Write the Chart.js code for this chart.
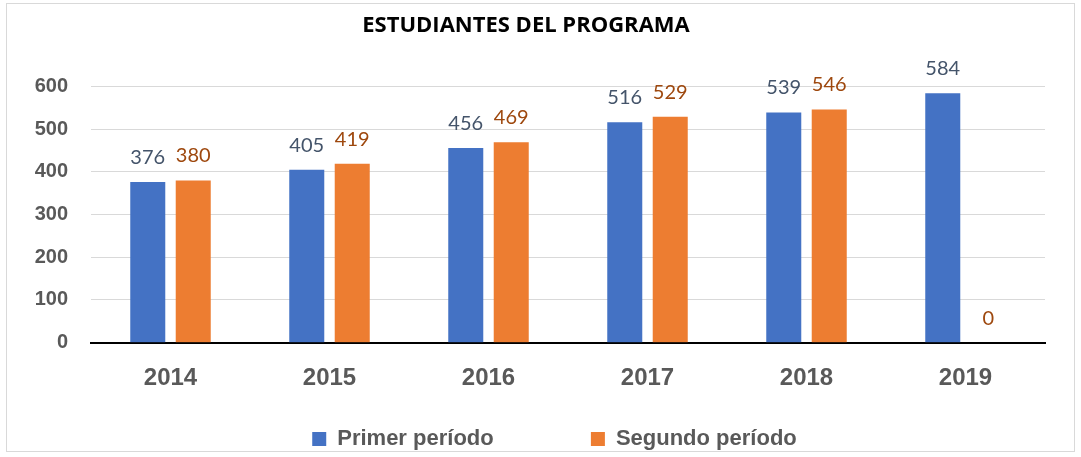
<!DOCTYPE html>
<html>
<head>
<meta charset="utf-8">
<script src="https://cdn.jsdelivr.net/npm/chart.js@4/dist/chart.umd.min.js"></script>
<style>
  html, body { margin: 0; padding: 0; background: #ffffff; }
  #wrap { position: absolute; left: 6px; top: 3px; width: 1069px; height: 449px; border: 1px solid #d9d9d9; box-sizing: border-box; background: #fff; }
  canvas { display: block; }
</style>
</head>
<body>
<div id="wrap"><canvas id="c"></canvas></div>
<script>
const categories = ["2014", "2015", "2016", "2017", "2018", "2019"];
const primerPeriodo = [376, 405, 456, 516, 539, 584];
const segundoPeriodo = [380, 419, 469, 529, 546, 0];
const seriesNames = ["Primer período", "Segundo período"];
const yTicks = [0, 100, 200, 300, 400, 500, 600];
const chartTitle = "ESTUDIANTES DEL PROGRAMA";

const AXISFONT = "'Liberation Sans', Arial, sans-serif";
const labelColors = ["#44546A", "#9E480E"];

const valueLabels = {
  id: 'valueLabels',
  afterDatasetsDraw(chart) {
    const ctx = chart.ctx;
    ctx.save();
    ctx.font = "20px Lato, 'Open Sans', sans-serif";
    ctx.textAlign = 'center';
    ctx.textBaseline = 'alphabetic';
    chart.data.datasets.forEach((ds, i) => {
      const meta = chart.getDatasetMeta(i);
      meta.data.forEach((bar, j) => {
        ctx.fillStyle = labelColors[i];
        ctx.fillText(String(ds.data[j]), bar.x, bar.y - 18);
      });
    });
    ctx.restore();
  }
};

const legendShift = {
  id: 'legendShift',
  afterLayout(chart) {
    const lg = chart.legend;
    if (!lg) return;
    lg.left += 28.5; lg.right += 28.5;
    lg.top += 9; lg.bottom += 9;
  }
};

new Chart(document.getElementById('c'), {
  type: 'bar',
  data: {
    labels: categories,
    datasets: [
      { label: seriesNames[0], data: primerPeriodo, backgroundColor: '#4472C4', categoryPercentage: 0.572, barPercentage: 0.77 },
      { label: seriesNames[1], data: segundoPeriodo, backgroundColor: '#ED7D31', categoryPercentage: 0.572, barPercentage: 0.77 }
    ]
  },
  options: {
    responsive: true,
    maintainAspectRatio: false,
    animation: false,
    layout: { padding: { left: 0, right: 29, top: 0, bottom: 0 } },
    plugins: {
      title: {
        display: true,
        text: chartTitle,
        color: '#000000',
        font: { family: "'Open Sans', sans-serif", size: 22, weight: 'bold', lineHeight: 1.2 },
        padding: { top: 9, bottom: 47 }
      },
      legend: {
        display: true,
        position: 'bottom',
        labels: {
          boxWidth: 14,
          boxHeight: 14,
          color: '#595959',
          padding: 5.5,
          font: { family: AXISFONT, size: 22, weight: 'bold' },
          generateLabels(chart) {
            const base = Chart.defaults.plugins.legend.labels.generateLabels(chart);
            base[0].text = base[0].text + '\u00A0'.repeat(15);
            return base;
          }
        }
      },
      tooltip: { enabled: false }
    },
    scales: {
      x: {
        grid: { display: false, drawTicks: false },
        border: { display: true, color: '#000000', width: 2 },
        ticks: { color: '#595959', padding: 21, font: { family: AXISFONT, size: 24, weight: 'bold', lineHeight: 1.2 } }
      },
      y: {
        min: 0, max: 600,
        afterFit(scale) { scale.width = 84; },
        afterBuildTicks(scale) { scale.ticks = yTicks.map(v => ({ value: v })); },
        grid: { color: '#d9d9d9', lineWidth: 1, drawTicks: false },
        border: { display: false },
        ticks: { color: '#595959', padding: 23, font: { family: AXISFONT, size: 20, weight: 'bold' } }
      }
    }
  },
  plugins: [valueLabels, legendShift]
});
</script>
</body>
</html>
